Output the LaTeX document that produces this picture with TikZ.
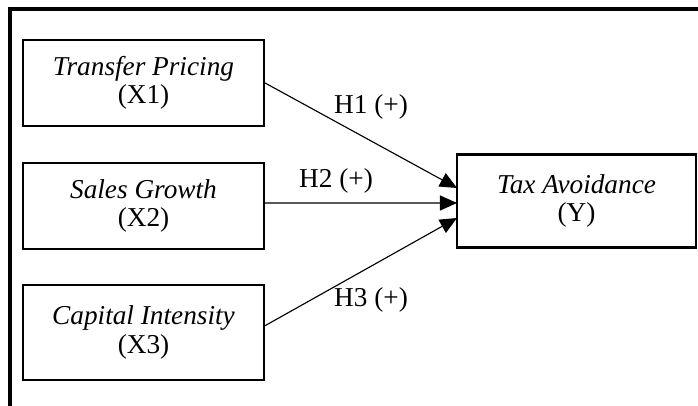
\documentclass[tikz,border=0pt]{standalone}
\usepackage{fontspec}
\setmainfont{Liberation Serif}
\usetikzlibrary{positioning,arrows.meta}

\begin{document}
\begin{tikzpicture}[
  x=0.44pt, y=-0.44pt,
  font=\fontsize{12}{12.5}\selectfont,
  var/.style={rectangle, draw=black, line width=1pt, minimum width=106pt,
              minimum height=38pt, inner sep=2pt, align=center, fill=white},
  hyp/.style={-{Triangle[length=7.5pt,width=6.6pt]}, draw=black, line width=0.5pt},
  lbl/.style={inner sep=1pt}
]
\useasboundingbox (0,0) rectangle (698,406);
% frame
\draw[line width=1.4pt] (10,406) -- (10,9) -- (700,9);

\node[var] (tp) at (143.5,83)  {\textit{Transfer Pricing}\\(X1)};
\node[var] (sg) at (143.5,206) {\textit{Sales Growth}\\(X2)};
\node[var, minimum height=42pt] (ci) at (143.5,332.5) {\textit{Capital Intensity}\\(X3)};
\node[var, minimum width=105pt, minimum height=41pt] (ta) at (576.5,201) {\textit{Tax Avoidance}\\(Y)};

\coordinate (in1) at (457,188);
\coordinate (in2) at (457,203);
\coordinate (in3) at (457,218);

\draw[hyp] (tp.east) -- (in1);
\draw[hyp] ([yshift=1.3pt]sg.east) -- (in2);
\draw[hyp] ([yshift=3pt]ci.east) -- (in3);

\node[lbl] (h1) at (371,107) {H1 (+)};
\node[lbl] (h2) at (336,181) {H2 (+)};
\node[lbl] (h3) at (371,300) {H3 (+)};
\end{tikzpicture}
\end{document}
